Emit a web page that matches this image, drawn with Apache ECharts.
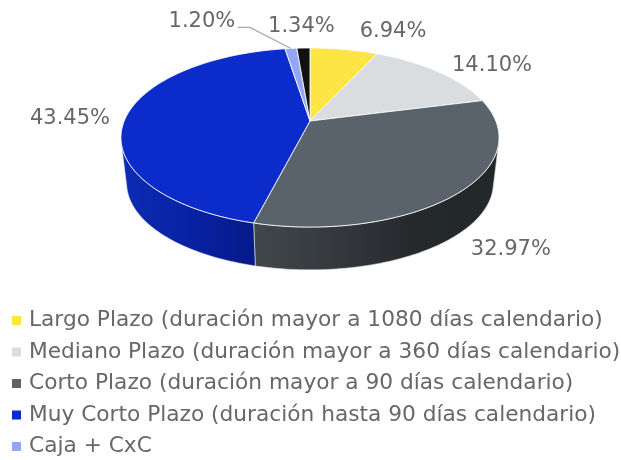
<!DOCTYPE html>
<html><head><meta charset="utf-8">
<style>html,body{margin:0;padding:0;background:#fff}#c{width:621px;height:460px}</style>
<script src="https://cdn.jsdelivr.net/npm/echarts@6/dist/echarts.min.js"></script>
</head><body><div id="c"></div>
<script>
const categories = [
  'Largo Plazo (duración mayor a 1080 días calendario)',
  'Mediano Plazo (duración mayor a 360 días calendario)',
  'Corto Plazo (duración mayor a 90 días calendario)',
  'Muy Corto Plazo (duración hasta 90 días calendario)',
  'Caja + CxC',
  'Otros'
];
const values = [6.94, 14.10, 32.97, 43.45, 1.20, 1.34];
const legendItems = categories.slice(0, 5);

// styling / layout, separate from the data
const colors = ['#FDE545', '#DADDE0', '#5A636B', '#0B2BCB', '#93A6F5', '#111111'];
const sideStops = {
  2: [[0, '#42474C'], [0.35, '#34383D'], [0.65, '#25292C'], [1, '#222729']],
  3: [[0, '#0A2CB4'], [0.6, '#0820A0'], [1, '#051A85']]
};
const labelOffsets = [[49, -18], [54, -6], [50, 58], [-56, 2], [-89, -27], [-2, -21]];
const leaders = { 4: [[0, 0], [-41, -21], [-53, -21]] };
const FONT = '"DejaVu Sans"';
const TEXT_COLOR = '#656769';
const LABEL_FONT = '21px ' + FONT;
const GEO = { ax: 310, ay: 121, A: 185.8, B: 86.5, k: 0.1844, scale: 0.97, ay2: 167 };

function rim(pct) {
  const t = pct / 100 * 2 * Math.PI, u = Math.sin(t), v = -Math.cos(t), w = 1 - GEO.k * v;
  return [GEO.A * u / w, GEO.B * v / w];
}
const top3 = p => { const r = rim(p); return [GEO.ax + r[0], GEO.ay + r[1]]; };
const bot3 = p => { const r = rim(p); return [GEO.ax + r[0] * GEO.scale, GEO.ay2 + r[1] * GEO.scale]; };
function arc(a, b, f) { const n = Math.max(2, Math.ceil((b - a) * 3)), o = [];
  for (let i = 0; i <= n; i++) o.push(f(a + (b - a) * i / n)); return o; }
// where the wall's edge is tangent to the rim: the silhouette of the drum
function tangent(lo, hi) {
  let best = lo, bestV = Infinity;
  for (let p = lo; p <= hi; p += 0.02) {
    const a = top3(p - 0.01), b = top3(p + 0.01), t = top3(p), q = bot3(p);
    const c = Math.abs((b[0] - a[0]) * (q[1] - t[1]) - (b[1] - a[1]) * (q[0] - t[0]));
    if (c < bestV) { bestV = c; best = p; }
  }
  return best;
}
const WALL_FROM = tangent(18, 40), WALL_TO = tangent(60, 82);

let cum = 0;
const series = values.map((val, idx) => {
  const start = cum; cum += val;
  return {
    type: 'custom', name: categories[idx], coordinateSystem: 'none', silent: true,
    itemStyle: { color: colors[idx] },
    data: [[val, start]],
    renderItem(params, api) {
      const v = api.value(0), s = api.value(1), e = s + v, kids = [];
      const a = Math.max(s, WALL_FROM), b = Math.min(e, WALL_TO);
      if (b > a && sideStops[idx]) {
        kids.push({ type: 'polygon',
          shape: { points: arc(a, b, top3).concat(arc(a, b, bot3).reverse()) },
          style: { fill: { type: 'linear', x: 0, y: 0, x2: 1, y2: 0,
            colorStops: sideStops[idx].map(c => ({ offset: c[0], color: c[1] })) },
            stroke: 'rgba(225,228,232,0.75)', lineWidth: 0.8 } });
      }
      kids.push({ type: 'polygon',
        shape: { points: [[GEO.ax, GEO.ay]].concat(arc(s, e, top3)) },
        style: { fill: colors[idx], stroke: 'rgba(255,255,255,0.85)', lineWidth: 1, lineJoin: 'round' } });
      const m = top3(s + v / 2), off = labelOffsets[idx];
      if (leaders[idx]) {
        kids.push({ type: 'polyline',
          shape: { points: leaders[idx].map(d => [m[0] + d[0], m[1] + d[1]]) },
          style: { fill: null, stroke: '#A9A9A9', lineWidth: 1.2 } });
      }
      kids.push({ type: 'text', z2: 10,
        style: { text: v.toFixed(2) + '%', x: m[0] + off[0], y: m[1] + off[1],
          align: 'center', verticalAlign: 'middle',
          font: LABEL_FONT, fill: TEXT_COLOR } });
      return { type: 'group', children: kids };
    }
  };
});

const chart = echarts.init(document.getElementById('c'), null, { renderer: 'canvas' });
chart.setOption({
  animation: false,
  backgroundColor: '#fff',
  legend: {
    data: legendItems, orient: 'vertical', left: 12, top: 309.5,
    icon: 'rect', itemWidth: 9, itemHeight: 9, itemGap: 9.5, padding: 0,
    selectedMode: false,
    textStyle: { fontFamily: FONT, fontSize: 21.7, color: TEXT_COLOR, lineHeight: 22, padding: [0, 0, 0, 3] }
  },
  series
});
</script></body></html>
